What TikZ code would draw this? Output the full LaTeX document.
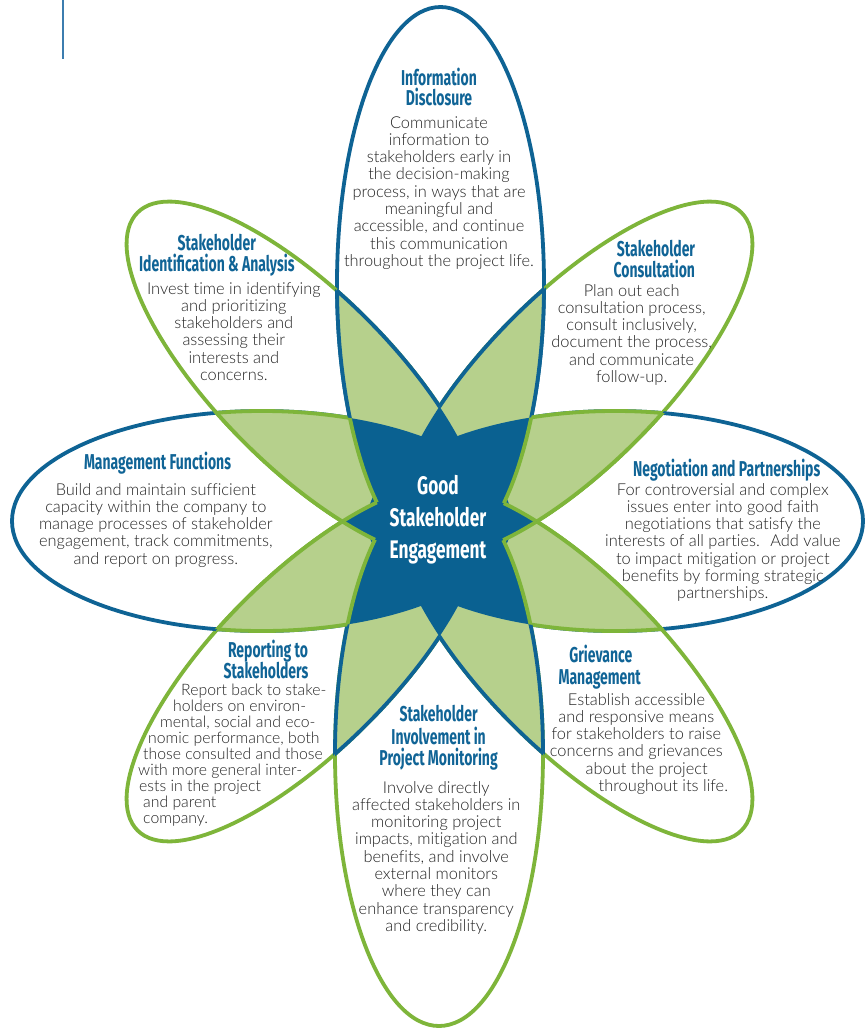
\documentclass[tikz,border=0pt]{standalone}
\usepackage{fontspec}
\setmainfont{Lato Light}[Ligatures=NoCommon]
\newfontfamily\headfont[FakeStretch=0.65]{Fira Sans}
\newfontfamily\ctrfont[FakeStretch=0.68]{Fira Sans}
\definecolor{eblue}{RGB}{14,99,148}
\definecolor{egreen}{RGB}{126,181,58}
\definecolor{lgreen}{RGB}{182,208,140}
\definecolor{sblue}{RGB}{10,97,145}
\definecolor{hblue}{RGB}{16,100,150}
\definecolor{txt}{RGB}{35,35,35}
\definecolor{rule}{RGB}{60,125,175}
\tikzset{
  e1/.style={}, e3/.style={}, e5/.style={}, e7/.style={},
  e2/.style={rotate around={45:(573.85,-380.15)}},
  e4/.style={rotate around={-45:(573.85,-662.85)}},
  e6/.style={rotate around={45:(305.15,-662.85)}},
  e8/.style={rotate around={-45:(305.15,-380.15)}},
  ln/.style={line width=3.8pt},
  body/.style={font=\fontsize{16.4}{17.3}\selectfont, text=txt, inner sep=0pt, anchor=base},
  bodyw/.style={body, anchor=base west, font=\fontsize{15.8}{16}\selectfont},
  head/.style={font=\headfont\bfseries\fontsize{21.5}{21.5}\selectfont, text=hblue, inner sep=0pt, anchor=base},
  ctr/.style={font=\ctrfont\bfseries\fontsize{25.4}{25.4}\selectfont, text=white, inner sep=0pt, anchor=base}
}
\expandafter\def\csname ep1\endcsname{(440.5,-284) ellipse (103.5 and 277)}
\expandafter\def\csname ep2\endcsname{(573.85,-380.15) ellipse (237 and 87)}
\expandafter\def\csname ep3\endcsname{(615,-521) ellipse (248 and 110)}
\expandafter\def\csname ep4\endcsname{(573.85,-662.85) ellipse (237 and 87)}
\expandafter\def\csname ep5\endcsname{(439,-754) ellipse (104 and 272)}
\expandafter\def\csname ep6\endcsname{(305.15,-662.85) ellipse (237 and 87)}
\expandafter\def\csname ep7\endcsname{(262,-521) ellipse (250 and 110)}
\expandafter\def\csname ep8\endcsname{(305.15,-380.15) ellipse (237 and 87)}
\newcommand\EP[1]{\csname ep#1\endcsname}
\newcommand\IN[1]{\clip[e#1] \EP{#1};}
\newcommand\OUT[1]{\clip[e#1] (-3000,3000) -- (3000,3000) -- (3000,-3000) -- (-3000,-3000) -- cycle \EP{#1};}
\newcommand\seg[4]{\begin{scope}\IN{#2}\OUT{#3}\draw[ln,#4,e#1]\EP{#1};\end{scope}}
\newcommand\segg[4]{\begin{scope}\IN{#2}\IN{#3}\OUT{#4}\draw[ln,egreen,e#1]\EP{#1};\end{scope}}
\newcommand\para[5]{\foreach \tx [count=\n] in {#5} \node[body] (#1\n) at (#2, {-(#3+(\n-1)*17.3)}) {\tx};}
\begin{document}
\begin{tikzpicture}[x=1pt,y=1pt]
\useasboundingbox (0,0) rectangle (866,-1031);
\fill[white] (0,0) rectangle (866,-1031);
\coordinate (r1) at (63,0);
\coordinate (r2) at (63,-59);
\draw[line width=1.6pt, rule] (r1) -- (r2);
% outer outlines
\foreach \i/\c in {1/eblue,2/egreen,3/eblue,4/egreen,5/egreen,6/egreen,7/eblue,8/egreen}{\draw[ln,\c,e\i]\EP{\i};}
% overlap fills
\foreach \i in {1,...,7}{\foreach \j in {2,...,8}{\ifnum\j>\i\relax\begin{scope}\IN{\i}\fill[lgreen,e\j]\EP{\j};\end{scope}\fi}}
% lens outer edges
\seg{1}{2}{3}{eblue}\seg{2}{1}{8}{eblue}
\seg{2}{3}{4}{egreen}\seg{3}{2}{1}{egreen}
\seg{3}{4}{5}{egreen}\seg{4}{3}{2}{egreen}
\seg{4}{5}{6}{eblue}\seg{5}{4}{3}{eblue}
\seg{5}{6}{7}{eblue}\seg{6}{5}{4}{eblue}
\seg{6}{7}{8}{egreen}\seg{7}{6}{5}{egreen}
\seg{7}{8}{1}{egreen}\seg{8}{7}{6}{egreen}
\seg{8}{1}{2}{eblue}\seg{1}{8}{7}{eblue}
% star
\foreach \i in {1,...,6}{\foreach \j in {2,...,7}{\foreach \k in {3,...,8}{\ifnum\j>\i\relax\ifnum\k>\j\relax\begin{scope}\IN{\i}\IN{\j}\fill[sblue,e\k]\EP{\k};\end{scope}\fi\fi}}}
% star edges of side lenses
\segg{4}{2}{3}{1}\segg{1}{2}{3}{4}
\segg{5}{3}{4}{2}\segg{2}{3}{4}{5}
\segg{8}{6}{7}{5}\segg{5}{6}{7}{8}
\segg{1}{7}{8}{6}\segg{6}{7}{8}{1}
% centre
\node[ctr] (c1) at (438,-494) {Good};
\node[ctr] (c2) at (438,-526.7) {Stakeholder};
\node[ctr] (c3) at (438,-558.3) {Engagement};
% Information Disclosure
\node[head] (h1a) at (439,-85) {Information};
\node[head] (h1b) at (439,-105.5) {Disclosure};
\para{inf}{439}{128}{}{Communicate, information to, stakeholders early in, the decision-making, {process, in ways that are}, meaningful and, {accessible, and continue}, this communication, throughout the project life.}
% Identification
\node[head] (h2a) at (216.8,-250) {Stakeholder};
\node[head] (h2b) at (216.8,-271) {Identification \& Analysis};
\para{idn}{233.8}{294}{}{Invest time in identifying, and prioritizing, stakeholders and, assessing their, interests and, concerns.}
% Consultation
\node[head] (h3a) at (656,-256) {Stakeholder};
\node[head] (h3b) at (654.3,-277) {Consultation};
\para{con}{631.7}{296}{}{Plan out each, {consultation process,}, {consult inclusively,}, {document the process,}, and communicate, follow-up.}
% Management
\node[head] (h4) at (157.5,-469) {Management Functions};
\para{mgt}{155.8}{495}{}{Build and maintain sufficient, capacity within the company to, manage processes of stakeholder, {engagement, track commitments,}, and report on progress.}
% Negotiation
\node[head] (h5) at (726.7,-476) {Negotiation and Partnerships};
\para{neg}{722.8}{495}{}{For controversial and complex, issues enter into good faith, negotiations that satisfy the, interests of all parties.~ Add value, to impact mitigation or project, benefits by forming strategic, partnerships.}
% Reporting
\node[head] (h6a) at (268,-657) {Reporting to};
\node[head] (h6b) at (266,-678) {Stakeholders};
\node[bodyw] (rep1) at (181,-695) {Report back to stake-};
\node[bodyw] (rep2) at (173,-711) {holders on environ-};
\node[bodyw] (rep3) at (160,-727) {mental, social and eco-};
\node[bodyw] (rep4) at (148,-743) {nomic performance, both};
\node[bodyw] (rep5) at (143,-759) {those consulted and those};
\node[bodyw] (rep6) at (138,-775) {with more general inter-};
\node[bodyw] (rep7) at (139,-791) {ests in the project};
\node[bodyw] (rep8) at (143,-807) {and parent};
\node[bodyw] (rep9) at (143,-823) {company.};
% Involvement
\node[head] (h7a) at (438.6,-721.7) {Stakeholder};
\node[head] (h7b) at (438.6,-744) {Involvement in};
\node[head] (h7c) at (438.6,-765) {Project Monitoring};
\para{inv}{436.3}{793}{}{Involve directly, affected stakeholders in, monitoring project, {impacts, mitigation and}, {benefits, and involve}, external monitors, where they can, enhance transparency, and credibility.}
% Grievance
\node[head] (h8a) at (600.8,-662.7) {Grievance};
\node[head] (h8b) at (599.7,-684) {Management};
\node[body] (grv1) at (636.5,-705) {Establish accessible};
\node[body] (grv2) at (636.3,-722.3) {and responsive means};
\node[body] (grv3) at (636.3,-739.6) {for stakeholders to raise};
\node[body] (grv4) at (636.3,-756.9) {concerns and grievances};
\node[body] (grv5) at (646.7,-774.2) {about the project};
\node[body] (grv6) at (663.3,-791.5) {throughout its life.};
\end{tikzpicture}
\end{document}
